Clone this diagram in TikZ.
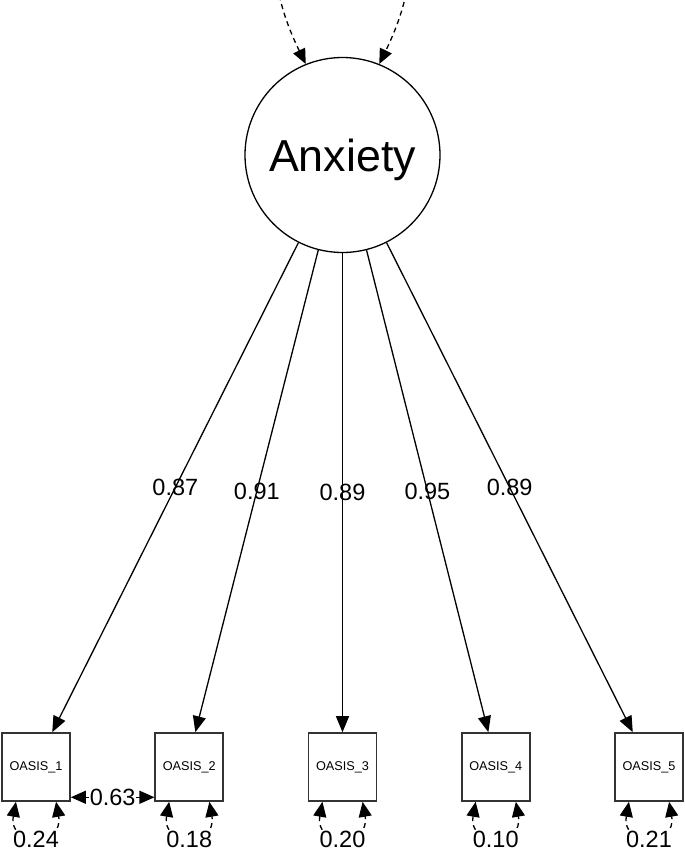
\documentclass[tikz,border=0pt]{standalone}
\usepackage{fontspec}
\setmainfont{Liberation Sans}
\usetikzlibrary{arrows.meta,calc}
\begin{document}
\begin{tikzpicture}[x=1pt,y=1pt,
  tip/.style={-{Triangle[length=16pt,width=13pt]}},
  dtip/.style={{Triangle[length=15pt,width=13pt]}-{Triangle[length=15pt,width=13pt]}},
  latent/.style={circle,draw=black,line width=1.3pt,minimum size=195pt,inner sep=0pt,
    font=\fontsize{44.8}{50}\selectfont,text depth=0pt},
  obs/.style={rectangle,draw=black!80,line width=1.6pt,minimum size=68pt,inner sep=0pt,
    font=\fontsize{12.7}{15}\selectfont},
  num/.style={font=\fontsize{23.5}{26}\selectfont,inner sep=0.5pt,text depth=0pt},
  conn/.style={line width=1.3pt,black},
  vardash/.style={line width=1.3pt,dash pattern=on 5pt off 4pt}]
\useasboundingbox (0,0) rectangle (685,-852);
\clip (0,0) rectangle (685,-852);
\fill[white] (0,0) rectangle (685,-852);

\node[latent] (anx) at (342.5,-155) {Anxiety};
\node[obs] (o1) at (36,-767) {OASIS\_1};
\node[obs] (o2) at (189.25,-767) {OASIS\_2};
\node[obs] (o3) at (342.5,-767) {OASIS\_3};
\node[obs] (o4) at (495.75,-767) {OASIS\_4};
\node[obs] (o5) at (649,-767) {OASIS\_5};

% variance of latent
\draw[vardash,dtip] (anx.112) .. controls +(116:260) and +(64:260) .. (anx.68);

% loadings
\draw[conn,tip] (anx) -- node[num]{0.87} (o1.65);
\draw[conn,tip] (anx) -- node[num]{0.91} (o2.80);
\draw[conn,tip] (anx) -- node[num]{0.89} (o3.north);
\draw[conn,tip] (anx) -- node[num]{0.95} (o4.102.4);
\draw[conn,tip] (anx) -- node[num]{0.89} (o5.115.5);

% covariance
\draw[conn,dtip] (o1.-41) -- node[num,fill=white]{0.63} (o2.-139);

% residual variances
\foreach \o/\v in {o1/0.24,o2/0.18,o3/0.20,o4/0.10,o5/0.21}{
  \draw[vardash,dtip] (\o.-120) .. controls +(-100:46) and +(-80:46) .. (\o.-60);
  \node[num,fill=white] (v\o) at ([yshift=-37pt]\o.south) {\v};
}
\end{tikzpicture}
\end{document}
